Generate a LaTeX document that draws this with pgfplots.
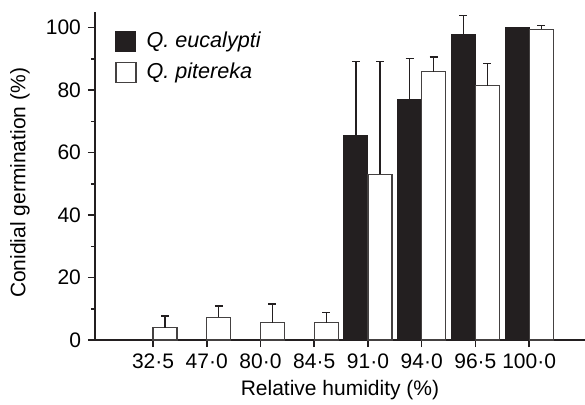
\documentclass[border=0pt]{standalone}
\usepackage{fontspec}
\setmainfont{Liberation Sans}
\usepackage{pgfplots}
\pgfplotsset{compat=1.18}
\definecolor{ink}{HTML}{231F20}
\begin{document}
\begin{tikzpicture}[font=\fontsize{10.5}{12.6}\selectfont]
\begin{axis}[
 scale only axis, width=245pt, height=164pt,
 xmin=-1.08, xmax=8.04, ymin=0, ymax=105,
 ybar=0pt, bar width=12pt,
 axis x line*=bottom, axis y line*=left,
 x axis line style={-}, y axis line style={-},
 axis line style={line width=0.75pt, ink},
 xtick={0,...,7}, xticklabels={32·5,47·0,80·0,84·5,91·0,94·0,96·5,100·0},
 ytick={0,20,...,100}, minor ytick={10,30,...,90},
 tick align=outside,
 major tick length=3.5pt, minor tick length=2pt,
 tick style={line width=0.75pt, ink},
 /pgf/number format/assume math mode=true,
 xlabel={Relative humidity (\%)}, ylabel={Conidial germination (\%)},
 xlabel style={at={([yshift=-25pt]axis description cs:0.5,0)}, anchor=center},
 ylabel style={at={([xshift=-37.5pt]axis description cs:0,0.479)}, anchor=center},
 legend image code/.code={\draw[#1] (0pt,-5pt) rectangle (10pt,5pt);},
 legend style={at={(axis description cs:0.0408,0.952)}, anchor=north west, draw=none, fill=none, inner sep=0pt, row sep=2pt, font=\fontsize{10.8}{13}\selectfont,
   /tikz/every odd column/.append style={column sep=3pt}},
 legend cell align=left,
]
\addplot[fill=ink, draw=ink, line width=0.5pt,
  error bars/.cd, y dir=plus, y explicit,
  error bar style={line width=0.6pt, ink},
  error mark options={rotate=90, line width=0.6pt, ink, mark size=2pt}]
 coordinates {(4,65.6) +- (0,23.5) (5,77.1) +- (0,12.9) (6,97.9) +- (0,5.9) (7,100) +- (0,0)};
\addplot[fill=white, draw=ink!85, line width=0.6pt,
  error bars/.cd, y dir=plus, y explicit,
  error bar style={line width=0.6pt, ink},
  error mark options={rotate=90, line width=0.6pt, ink, mark size=2pt}]
 coordinates {(0,3.9) +- (0,3.8) (1,7.3) +- (0,3.6) (2,5.5) +- (0,6.0) (3,5.5) +- (0,3.2)
  (4,53.0) +- (0,36.1) (5,85.9) +- (0,4.7) (6,81.4) +- (0,7.0) (7,99.4) +- (0,1.2)};
\legend{\textit{Q. eucalypti}, \textit{Q. pitereka}}
\end{axis}
\pgfresetboundingbox
\path ([xshift=-47.5pt,yshift=-32pt]current axis.south west) rectangle ([yshift=6pt]current axis.north east);
\end{tikzpicture}
\end{document}
